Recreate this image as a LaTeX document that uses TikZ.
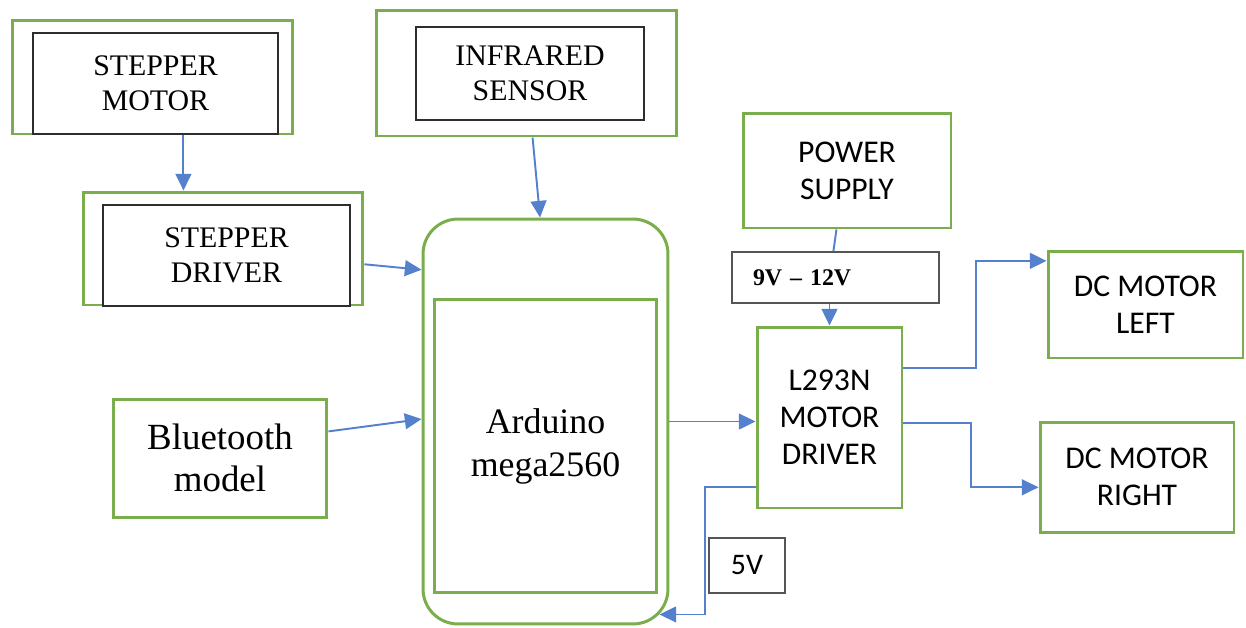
\documentclass[tikz,border=0pt]{standalone}
\usepackage{fontspec}
\setmainfont{Liberation Serif}
\newfontfamily\calib{Carlito}
\usetikzlibrary{calc,arrows.meta}
\definecolor{gboxc}{RGB}{122,174,76}
\definecolor{lnc}{RGB}{84,128,206}
\definecolor{dkc}{RGB}{45,45,45}
\definecolor{gyc}{RGB}{85,85,85}
\begin{document}
\begin{tikzpicture}[x=0.02cm,y=-0.02cm,
  gbox/.style={draw=gboxc,line width=1.7pt,inner sep=0pt},
  kbox/.style={draw=dkc,line width=0.7pt,fill=white,inner sep=0pt},
  vbox/.style={draw=gyc,line width=1.1pt,fill=white,inner sep=0pt},
  serif/.style={font=\fontsize{17}{19.8}\selectfont,align=center},
  sans/.style={font=\calib\fontsize{18}{21}\selectfont,align=center},
  arr/.style={draw=lnc,line width=1.1pt,-{Triangle[length=9.5pt,width=9pt]}},
  ln/.style={draw=lnc,line width=1.1pt}]
\useasboundingbox[fill=white] (0,0) rectangle (1246,627);

% boxes
\node[gbox,minimum width=5.62cm,minimum height=2.28cm] (smo) at (152.5,77) {};
\node[kbox,serif,minimum width=4.9cm,minimum height=2.02cm] (smoi) at (155.5,83.5) {STEPPER\\MOTOR};
\node[gbox,minimum width=5.6cm,minimum height=2.26cm] (sdr) at (223,248.5) {};
\node[kbox,serif,minimum width=4.94cm,minimum height=2.02cm] (sdri) at (226.5,255.5) {STEPPER\\DRIVER};
\node[gbox,minimum width=6.02cm,minimum height=2.52cm] (ir) at (526.5,73) {};
\node[kbox,serif,minimum width=4.56cm,minimum height=1.86cm] (iri) at (530,73.5) {INFRARED\\SENSOR};
\node[gbox,rounded corners=0.7cm,minimum width=4.9cm,minimum height=8.1cm] (ard) at (545.5,421.5) {};
\node[gbox,font=\fontsize{20.4}{24.4}\selectfont,align=center,minimum width=4.46cm,minimum height=5.88cm] (ardi) at (545.5,446) {Arduino\\mega2560};
\node[gbox,font=\fontsize{21}{24}\selectfont,align=center,minimum width=4.28cm,minimum height=2.36cm] (bt) at (220,458) {Bluetooth\\model};
\node[gbox,sans,minimum width=4.16cm,minimum height=2.3cm] (ps) at (847,170.5) {POWER\\SUPPLY};
\node[vbox,font=\bfseries\fontsize{13.6}{16}\selectfont,align=left,text width=3.3cm,minimum width=4.14cm,minimum height=1.02cm] (v9) at (835.5,277.5) {9V -- 12V};
\node[gbox,sans,minimum width=2.9cm,minimum height=3.62cm] (l293) at (829.5,417.5) {L293N\\MOTOR\\DRIVER};
\node[vbox,font=\calib\fontsize{17}{19}\selectfont,minimum width=1.52cm,minimum height=1.1cm] (v5) at (747,565.5) {5V};
\node[gbox,sans,minimum width=3.9cm,minimum height=2.14cm] (dcl) at (1145.5,304.5) {DC MOTOR\\LEFT};
\node[gbox,sans,minimum width=3.88cm,minimum height=2.2cm] (dcr) at (1137,477) {DC MOTOR\\RIGHT};

% connectors
\coordinate (a1) at ($(smo.south west)!0.609!(smo.south east)$);
\draw[arr] (a1) -- (a1 |- sdr.north);
\draw[arr] ($(sdr.north east)!0.636!(sdr.south east)$) -- ($(ard.north west)!0.128!(ard.south west)$);
\draw[arr] ($(ir.south west)!0.52!(ir.south east)$) -- ($(ard.north west)!0.478!(ard.north east)$);
\draw[arr] ($(bt.north east)!0.28!(bt.south east)$) -- ($(ard.north west)!0.494!(ard.south west)$);
\draw[arr] (ard.east) -- (ard.east -| l293.west);
\draw[ln] ($(ps.south west)!0.45!(ps.south east)$) -- ($(v9.north west)!0.49!(v9.north east)$);
\draw[arr] (l293.north |- v9.south) -- (l293.north);

\coordinate (o1) at ($(l293.north east)!0.232!(l293.south east)$);
\coordinate (i1) at ($(dcl.north west)!0.103!(dcl.south west)$);
\coordinate (m1) at ($(l293.east)!0.505!(dcl.west)$);
\draw[arr] (o1) -- (o1 -| m1) |- (i1);

\coordinate (o2) at ($(l293.north east)!0.53!(l293.south east)$);
\coordinate (i2) at ($(dcr.north west)!0.591!(dcr.south west)$);
\coordinate (m2) at ($(l293.east)!0.5!(dcr.west)$);
\draw[arr] (o2) -- (o2 -| m2) |- (i2);

\coordinate (s5) at ($(l293.north west)!0.878!(l293.south west)$);
\coordinate (c5) at ($(v5.west)+(-3,0)$);
\coordinate (e5) at ($(ard.south east)+(-10,-11)$);
\draw[arr] (s5) -- (s5 -| c5) |- (e5);
\end{tikzpicture}
\end{document}
